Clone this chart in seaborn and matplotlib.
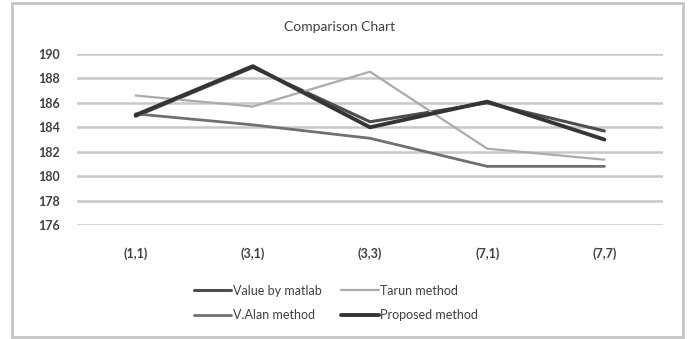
import matplotlib
matplotlib.use("Agg")
import matplotlib.pyplot as plt
from matplotlib.patches import Rectangle
from matplotlib.lines import Line2D
import seaborn as sns
import pandas as pd

# Window sizes compared
categories = ["(1,1)", "(3,1)", "(3,3)", "(7,1)", "(7,7)"]

# Measured values for each method
value_by_matlab = [184.9, 188.9, 184.45, 186.0, 183.7]
tarun_method = [186.6, 185.7, 188.55, 182.25, 181.35]
v_alan_method = [185.1, 184.2, 183.1, 180.8, 180.8]
proposed_method = [185.0, 189.0, 184.0, 186.1, 183.0]

y_ticks = [176, 178, 180, 182, 184, 186, 188, 190]

series = [
    ("Value by matlab", value_by_matlab, "#4d4d4d", 2.2),
    ("Tarun method", tarun_method, "#ababab", 1.6),
    ("V.Alan method", v_alan_method, "#707070", 2.0),
    ("Proposed method", proposed_method, "#353535", 2.8),
]

sns.set_theme(style="white")
plt.rcParams["font.family"] = ["Lato", "DejaVu Sans"]

W, H = 691, 339
fig = plt.figure(figsize=(W / 100, H / 100), dpi=100)
ax = fig.add_axes([77 / W, 1 - 225 / H, (663 - 77) / W, (225 - 54) / H])

text_color = "#404040"

for name, vals, color, lw in series:
    df = pd.DataFrame({"window": categories, "value": vals})
    sns.lineplot(data=df, x="window", y="value", ax=ax, color=color,
                 linewidth=lw, label=name, sort=False)

ax.set_ylim(176, 190)
ax.set_xlim(-0.5, len(categories) - 0.5)
ax.set_yticks(y_ticks)
ax.set_yticklabels([str(t) for t in y_ticks])
ax.set_xticks(range(len(categories)))
ax.set_xticklabels(categories)
ax.set_xlabel("")
ax.set_ylabel("")
ax.yaxis.grid(True, color="#c8c8c8", linewidth=1.8)
ax.xaxis.grid(False)
ax.set_axisbelow(True)
for s in ax.spines.values():
    s.set_visible(False)
ax.tick_params(axis="y", length=0, pad=12, labelsize=9, labelcolor=text_color)
ax.tick_params(axis="x", length=0, pad=16, labelsize=9, labelcolor=text_color)
for lab in ax.get_xticklabels() + ax.get_yticklabels():
    lab.set_fontweight("bold")

ax.get_legend().remove()

fig.text(340 / W, 1 - 27 / H, "Comparison Chart", ha="center", va="center",
         fontsize=10, color=text_color)

# Legend fills column by column: matlab / V.Alan on the left, Tarun / Proposed on the right
order = [0, 2, 1, 3]
handles = [Line2D([], [], color=series[i][2], linewidth=series[i][3]) for i in order]
labels = [series[i][0] for i in order]
fig.legend(handles, labels, loc="center", ncol=2,
           bbox_to_anchor=(336 / W, 1 - 303 / H), frameon=False,
           fontsize=9, handlelength=3.0, handletextpad=0.1,
           columnspacing=1.6, labelspacing=1.0, labelcolor=text_color)

# Outer chart frame
fig.patches.append(Rectangle((12 / W, 2 / H), (683 - 12) / W, (336 - 2) / H,
                             transform=fig.transFigure, fill=False,
                             edgecolor="#c4c4c4", linewidth=2))

fig.savefig("out.png", dpi=100, facecolor="white")
